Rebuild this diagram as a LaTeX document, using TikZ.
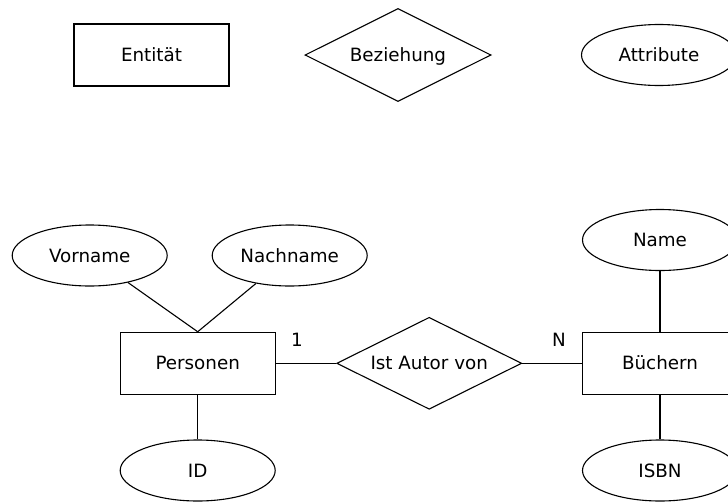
\documentclass[tikz,border=0pt]{standalone}
\usepackage{fontspec}
\setmainfont{DejaVu Sans}
\usetikzlibrary{shapes.geometric}

\begin{document}
\begin{tikzpicture}[x=1pt,y=-1pt,line width=1.1pt]
\tikzstyle{every node}+=[inner sep=0pt,text height=13pt,text depth=0pt,font=\fontsize{18.3}{22}\selectfont]
\tikzstyle{entity}=[draw,rectangle,minimum width=155,minimum height=62]
\tikzstyle{relation}=[draw,diamond,aspect=2,minimum width=186,minimum height=93]
\tikzstyle{attrib}=[draw,ellipse,minimum width=155,minimum height=61]
\useasboundingbox (0,0) rectangle (728,501);
\node [entity] (entitaet) at (151.5,55) {Entität};
\node [relation] (beziehung) at (398,55) {Beziehung};
\node [attrib] (attribute) at (659,55) {Attribute};
\node [attrib] (vorname) at (89.7,255.5) {Vorname};
\node [attrib] (nachname) at (289.7,255.5) {Nachname};
\node [entity] (personen) at (197.7,363.3) {Personen};
\node [attrib] (id) at (197.7,470.5) {ID};
\node [relation,minimum width=185,minimum height=92] (autor) at (429.2,363.3) {Ist Autor von};
\node [attrib] (name) at (660,240) {Name};
\node [entity] (buechern) at (660,363.3) {Büchern};
\node [attrib] (isbn) at (660,470.5) {ISBN};
\node (eins) at (297,340) {1};
\node (viele) at (559,340) {N};
\draw (vorname) -- (personen.north);
\draw (nachname) -- (personen.north);
\draw (personen) -- (id);
\draw (personen) -- (autor);
\draw (autor) -- (buechern);
\draw (name) -- (buechern);
\draw (buechern) -- (isbn);
\end{tikzpicture}
\end{document}
